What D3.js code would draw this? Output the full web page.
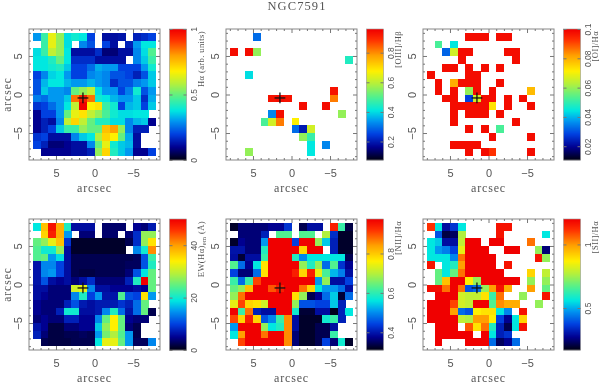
<!DOCTYPE html>
<html>
<head>
<meta charset="utf-8">
<script src="https://cdn.jsdelivr.net/npm/d3@7"></script>
<style>
  body { margin: 0; background: #fff; }
  svg { display: block; filter: blur(0.4px); }
  text { font-family: "Liberation Serif", serif; fill: #555; }
</style>
</head>
<body>
<div id="chart"></div>
<script>
// Cell values are read as a percentage of the way up each panel's colour bar.
// 16 rows (top to bottom) of 16 columns (left to right), _ = empty cell.
const _ = null;

const haValues = [
  [30,45,65,55,37,40,38,20, _,12,12,13, _,15,17,20],
  [ _,45,65,55,37, _,28,22, _,20,12, _,15,30,38,38],
  [37,45,60,55,38,12,12,12,17, 8, 8,12,12,28,37,48],
  [38,38,42,50,38,17,17,17,12,12,12,12, _,28,35,45],
  [38,38,40,42,35,20,20,25,32,30,30,20,20,20,30,40],
  [20,28,36,38,30,20,20,28,30,28,22,22,20,15,22,35],
  [22,33,38,38,33,30,30,33,30,28,17,22,22,27,30,35],
  [22,35,30,30,28,50,55,60,37,30,30,20,27,40,22,30],
  [27,25,30,30,35,85,95,85,40,38,33,30,30,35,17,32],
  [18,20,25,30,38,60,100,68,70,45,40,20,33,35,20,35],
  [10,20,20,30,50,65,70,60,55,47,40,37,37,38,38, _],
  [10,15,12,28,60,72,60,50,42,42,37,37,28,33,35,10],
  [10,15,20,35,45,45,55,50,50,75,80,55,28,15,15, _],
  [18,20,12,12,12,28,35,38,58,72,68,50,32,12, _, _],
  [20,15, 8, 8,10,12,12,28,50,65,40,35,33,12, _, _],
  [ _,10,10,10,10,12,12,15,55,72,42,35,30,10,10,20]
];

const o3Values = [
  [ _, _, _,25, _, _, _, _, _, _, _, _, _, _, _, _],
  [ _, _, _, _, _, _, _, _, _, _, _, _, _, _, _, _],
  [98, _,98,55, _, _, _, _, _, _, _, _, _, _, _, _],
  [ _, _, _, _, _, _, _, _, _, _, _, _, _, _, _,42],
  [ _, _, _, _, _, _, _, _, _, _, _, _, _, _, _, _],
  [ _, _,37, _, _, _, _, _, _, _, _, _, _, _, _, _],
  [ _, _, _, _, _, _, _, _, _, _, _, _, _, _, _, _],
  [ _, _, _, _, _, _, _, _, _, _, _, _, _,97, _, _],
  [ _, _, _, _, _,97,98,97, _, _, _, _, _,84, _, _],
  [ _, _, _, _, _, _, _, _, _,98, _, _,98, _, _, _],
  [ _, _, _, _, _,28,98, _, _, _, _, _, _, _,55, _],
  [ _, _, _, _,47,62,84, _,68, _, _, _, _, _, _, _],
  [ _, _, _, _, _, _, _, _,25,14,62, _, _, _, _, _],
  [ _, _, _, _, _, _, _, _, _,55,45, _, _, _, _, _],
  [ _, _, _, _, _, _, _, _, _, _,38, _,28, _, _, _],
  [ _, _,55, _, _, _, _, _, _, _,38, _, _, _, _, _]
];

const o1Values = [
  [ _, _, _, _, _,98,98,98, _,98,98, _, _, _, _, _],
  [ _,47, _,38, _, _, _, _, _, _, _, _, _, _, _, _],
  [ _, _,24,62,98,98, _, _, _, _,98,98, _, _, _, _],
  [ _, _, _, _,98, _, _, _, _, _, _,98, _, _, _, _],
  [ _, _,98,98, _,98, _,98, _,98, _, _, _, _, _, _],
  [98, _, _, _, _,98,98, _, _, _, _, _, _, _, _, _],
  [ _,98, _,78,98,98,98, _, _,98, _, _, _, _, _, _],
  [ _,98, _,98, _,55,98, _,98, _, _, _, _,76, _, _],
  [ _, _,98,98, _,20,62,98,98, _,98, _,98, _, _, _],
  [ _, _, _,98,98,98,98,98,70, _,98, _, _,98, _, _],
  [ _, _, _,98, _,98,98,98, _,98, _, _, _, _, _, _],
  [ _, _, _,98, _, _, _, _, _, _, _,98, _, _, _, _],
  [ _, _, _, _, _,98, _,98, _,47, _, _, _, _, _, _],
  [ _, _, _, _, _, _, _, _,98, _, _, _, _,98, _, _],
  [ _, _, _,98,98,98,98, _, _, _, _, _, _, _, _, _],
  [ _, _, _, _, _,98, _,98,92, _, _, _, _,98, _, _]
];

const ewValues = [
  [38,75,97,78,42,12,12,12, _, 7, 7, 7, _,10, 8,14],
  [ _,72,95,78,30, _, 8, 8, _, 7, 7, _, 8,17,55,55],
  [50,55,65,75,18, 2, 2, 2, 2, 2, 2, 2, 5,17,55,70],
  [48,40,40,55,12, 2, 2, 2, 2, 2, 2, 2, _,28,40,82],
  [48,50,30,37,12, 5, 5, 5, 5, 5, 5, 5, 5, 6,22,45],
  [13,28,28,20,12, 5, 5, 5, 5, 5, 5, 5, 6, 6,22,42],
  [13,28,30,20,12, 5, 4, 4, 5, 5, 5, 5, 8,22,38,50],
  [13,22,12,10,12, 8,12,17, 8, 8, 8, 8,15,42,100,50],
  [12,12, 8, 8, 8,62,65,28,12,12,10,10,10,12,10,50],
  [12,10, 8, 8, 8,28,42,20,30,13,13,48,22,20,70,30],
  [10, 8, 8, 8,15,22,14,12,14,14,14,18,15,25,50, _],
  [10, 8, 8,15,40,40,12,12,14,28,42,25,13,25,50, 5],
  [ 8,10, 8, 8,15,15,10,10,28,50,68,50,10, 8, 8, _],
  [13,10, 4, 4, 8, 8,10,10,35,55,68,50, 8, 5, _, _],
  [15, 8, 4, 4, 5, 5, 6, 5,30,52,58,48,30, 5, _, _],
  [ _, 5, 4, 4, 4, 5, 5, 5,38,65,65,50,30, 6, 6,28]
];

const n2Values = [
  [ 2, 8, 8, 8, 8,10,10,18, _, 5,12,12, _,95,45, 4],
  [ _, 8, 8, 8,15, _,48,48, _,48,48, _,58,17, 2, 2],
  [ 2,10, 8, 8,30,100,100,100,20,100,100,55,35,15, 2, 2],
  [13,13, 8, 8,42,100,100,100,100,72,100,100, _,15, 2, 2],
  [12, 3,12,12,45,100,100,100,42,28,38,38,38,38,38, 5],
  [48,25,10,38,70,100,100,100,100,55,42,55,25,48,18,10],
  [20, 8, 8,25,70,100,100,100,95,72,95,65,47,33,27,12],
  [45,25,45,90,100,100,100,100,100,100,100,30,55,12,12,20],
  [50,55,75,100,100,88,95,100,100,85,72,38,30,30,25,12],
  [55,85,100,100,100,100,100,100,70,55, 5,10,25,35, 3,25],
  [65,90,72,70,62,100,100,100,55,22,22,20,20,35,15, _],
  [100,45,85,15,12,12,100,100,40, 3, 3,12,12, 1,15,38],
  [90,72,95,72,22,28,45,82,12, 2, 2, 2,40,45,15, _],
  [30,100,100,100,55,38,42,82,12, 2, 2, 5, 5,12, _, _],
  [38,80,100,100,85,100,100,82, 8, 2, 2, 5, 5,45, _, _],
  [ _,90,100,100,100,100,100,82, 8, 2, 2, 5,20, 8,40, 2]
];

const s2Values = [
  [92,38,12,18,38, _, _, _, _,97,97, _, _, _, _, _],
  [ _,22, 4, 6,58, _, _, _, _,97, _, _, _, _, _,38],
  [38,35,12,12,60,100,100, _,100,100, _, _, _,85, _, _],
  [38,30,27,20,65,100,100,100, _, _,100,100, _, _,55, 8],
  [38,38,38,28,85,100,100,100,100, _, _, _, _, _,97,55],
  [97, _,38,42,80,100,100,100,100, _,97, _, _, _, _, _],
  [ _,50,38,50,85,100,100,100,100,100, _, _, _,72, _,60],
  [ _,50,75,100,100,68,55,100,100,100,100,100, _,55, _,55],
  [98,98,85,100,85,22,25,55,80,97,78, _, _,80, _,50],
  [ _,100,100,100,62,60,60,70,45,85, _, _,55, _, _,97],
  [100,100,100,90,62,60,100,100,48,82,78,78, _, _,55, _],
  [100,100,100,80,25,22,68,70,70,38,28, _,97, _, _, _],
  [100,100,100,100,60,58,80,80,68,20,10,38,72, _, _, _],
  [ _,100,100,100, _,88,70,85,42,15, 5,38,97, _, _, _],
  [ _,100,100,100,100,100, _,100,38,15,18, _, _, _, _, _],
  [ _,100, _, _, _,100,100,100,25, 6,10,25, _, _, _, _]
];

const barLabels = ["H\u03b1 (arb. units)", "[OIII]/H\u03b2", "[OI]/H\u03b1", "EW(H\u03b1)", "[NII]/H\u03b1", "[SII]/H\u03b1"];
const barLows = [0, 0.075, 0.0106, 0, 0.31, 0.17];
const barHighs = [1, 0.96, 0.1, 50, 0.975, 1.2];
const barTicks = [[0, 0.5, 1], [0.2, 0.4, 0.6, 0.8], [0.02, 0.04, 0.06, 0.08, 0.1], [0, 20, 40], [0.4, 0.6, 0.8], [0.5, 1]];
const allValues = [haValues, o3Values, o1Values, ewValues, n2Values, s2Values];

const nucleus = [1.5, -0.45];
const majorTicks = [-5, 0, 5];
const minorTicks = [-8, -7, -6, -4, -3, -2, -1, 1, 2, 3, 4, 6, 7, 8];

const rampStops = [0, 0.1, 0.2, 0.3, 0.38, 0.48, 0.58, 0.68, 0.8, 0.92, 1];
const rampColors = ["#000010", "#000090", "#0040e0", "#0098f0", "#00e8e0", "#50f090", "#b0f040", "#fff000", "#ffa000", "#ff3000", "#f00000"];
const color = d3.scaleLinear().domain(rampStops).range(rampColors);

const frameSize = 131;
const lefts = [29, 226, 423];
const tops = [29, 219];

const svg = d3.select("#chart")
    .append("svg")
    .attr("width", 600)
    .attr("height", 384);

svg.append("text")
    .attr("x", 297)
    .attr("y", 10)
    .attr("text-anchor", "middle")
    .style("font-size", "12.5px")
    .style("letter-spacing", "1.1px")
    .text("NGC7591");

function tickLines(g, axis, transform) {
  const t = g.append("g").attr("transform", transform).call(axis);
  t.select(".domain").remove();
  t.selectAll("line").attr("stroke", "#777");
  t.selectAll("text").remove();
}

allValues.forEach(function(values, i) {
  const g = svg.append("g")
      .attr("transform", `translate(${lefts[i % 3]}, ${tops[Math.floor(i / 3)]})`);

  const x = d3.scaleLinear().domain([8.5, -8.5]).range([0, frameSize]);
  const y = d3.scaleLinear().domain([8.5, -8.5]).range([0, frameSize]);
  const col = d3.scaleBand().domain(d3.range(16)).range([x(8), x(-8)]);
  const row = d3.scaleBand().domain(d3.range(16)).range([y(8), y(-8)]);

  // cells
  const cells = values.flatMap((r, j) => r.map((v, k) => ({r: j, c: k, v: v})))
      .filter(d => d.v !== null);
  g.selectAll("rect.cell")
      .data(cells)
      .join("rect")
      .attr("class", "cell")
      .attr("x", d => col(d.c))
      .attr("y", d => row(d.r))
      .attr("width", col.bandwidth() + 0.2)
      .attr("height", row.bandwidth() + 0.2)
      .attr("shape-rendering", "crispEdges")
      .attr("fill", d => color(d.v / 100));

  // frame
  g.append("rect")
      .attr("width", frameSize)
      .attr("height", frameSize)
      .attr("fill", "none")
      .attr("stroke", "#888");

  // ticks on all four sides, pointing inwards
  tickLines(g, d3.axisBottom(x).tickValues(majorTicks).tickSize(-4), `translate(0, ${frameSize})`);
  tickLines(g, d3.axisBottom(x).tickValues(minorTicks).tickSize(-2), `translate(0, ${frameSize})`);
  tickLines(g, d3.axisTop(x).tickValues(majorTicks).tickSize(-4), "translate(0, 0)");
  tickLines(g, d3.axisTop(x).tickValues(minorTicks).tickSize(-2), "translate(0, 0)");
  tickLines(g, d3.axisLeft(y).tickValues(majorTicks).tickSize(-4), "translate(0, 0)");
  tickLines(g, d3.axisLeft(y).tickValues(minorTicks).tickSize(-2), "translate(0, 0)");
  tickLines(g, d3.axisRight(y).tickValues(majorTicks).tickSize(-4), `translate(${frameSize}, 0)`);
  tickLines(g, d3.axisRight(y).tickValues(minorTicks).tickSize(-2), `translate(${frameSize}, 0)`);

  // tick labels
  const fmt = d => String(d).replace("-", "\u2212");
  const xLabels = g.append("g")
      .attr("transform", `translate(0, ${frameSize})`)
      .call(d3.axisBottom(x).tickValues(majorTicks).tickSize(0).tickPadding(9).tickFormat(fmt));
  xLabels.select(".domain").remove();
  xLabels.selectAll("text").style("font-family", "'Liberation Sans'").style("font-size", "11px");

  const yLabels = g.append("g")
      .call(d3.axisLeft(y).tickValues(majorTicks).tickSize(0).tickFormat(fmt));
  yLabels.select(".domain").remove();
  yLabels.selectAll("text")
      .attr("x", 0)
      .attr("dy", 0)
      .attr("text-anchor", "middle")
      .attr("transform", "translate(-7, 0) rotate(-90)")
      .style("font-family", "'Liberation Sans'")
      .style("font-size", "11px");

  g.append("text")
      .attr("x", frameSize / 2)
      .attr("y", frameSize + 32)
      .attr("text-anchor", "middle")
      .style("font-size", "12px")
      .style("letter-spacing", "0.8px")
      .text("arcsec");

  // only the left column has a y title
  if (i % 3 === 0) {
    g.append("text")
        .attr("transform", `translate(-18.5, ${frameSize / 2}) rotate(-90)`)
        .attr("text-anchor", "middle")
        .style("font-size", "11.5px")
        .style("letter-spacing", "1px")
        .text("arcsec");
  }

  // nucleus cross
  g.append("line")
      .attr("x1", x(nucleus[0] + 0.7)).attr("x2", x(nucleus[0] - 0.7))
      .attr("y1", y(nucleus[1])).attr("y2", y(nucleus[1]))
      .attr("stroke", "#111").attr("stroke-width", 1.3);
  g.append("line")
      .attr("x1", x(nucleus[0])).attr("x2", x(nucleus[0]))
      .attr("y1", y(nucleus[1] + 0.7)).attr("y2", y(nucleus[1] - 0.7))
      .attr("stroke", "#111").attr("stroke-width", 1.3);

  // colour bar
  const bar = g.append("g").attr("transform", `translate(${frameSize + 9.5}, 0)`);
  const barWidth = 17;
  const level = d3.scaleLinear().domain([0, 1]).range([frameSize, 0]);
  const barScale = d3.scaleLinear().domain([barLows[i], barHighs[i]]).range([frameSize, 0]);

  bar.selectAll("rect")
      .data(d3.range(0, 131))
      .join("rect")
      .attr("x", 0)
      .attr("y", d => level((d + 1) / 131))
      .attr("width", barWidth)
      .attr("height", frameSize / 131 + 0.3)
      .attr("fill", d => color((d + 0.5) / 131));

  bar.append("rect")
      .attr("width", barWidth)
      .attr("height", frameSize)
      .attr("fill", "none")
      .attr("stroke", "#999")
      .attr("stroke-width", 0.6);

  tickLines(bar, d3.axisLeft(barScale).tickValues(barTicks[i]).tickSize(-3), "translate(0, 0)");
  tickLines(bar, d3.axisRight(barScale).tickValues(barTicks[i]).tickSize(-3), `translate(${barWidth}, 0)`);

  const barText = bar.append("g")
      .call(d3.axisRight(barScale).tickValues(barTicks[i]).tickSize(0).tickFormat(d3.format("~g")));
  barText.select(".domain").remove();
  barText.selectAll("text")
      .attr("x", 0)
      .attr("dy", 0)
      .attr("text-anchor", "middle")
      .attr("transform", `translate(${barWidth + 10}, 0) rotate(-90)`)
      .style("font-family", "'Liberation Sans'")
      .style("font-size", "8.5px");

  const label = bar.append("text")
      .attr("transform", `translate(${barWidth + 17.5}, 2) rotate(-90)`)
      .attr("text-anchor", "end")
      .style("font-size", "8.5px")
      .style("letter-spacing", "0.4px")
      .text(barLabels[i]);
  if (i === 3) {
    label.append("tspan").attr("dy", 2).style("font-size", "6.5px").text("em");
    label.append("tspan").attr("dy", -2).text(" (\u00c5)");
  }
});
</script>
</body>
</html>
